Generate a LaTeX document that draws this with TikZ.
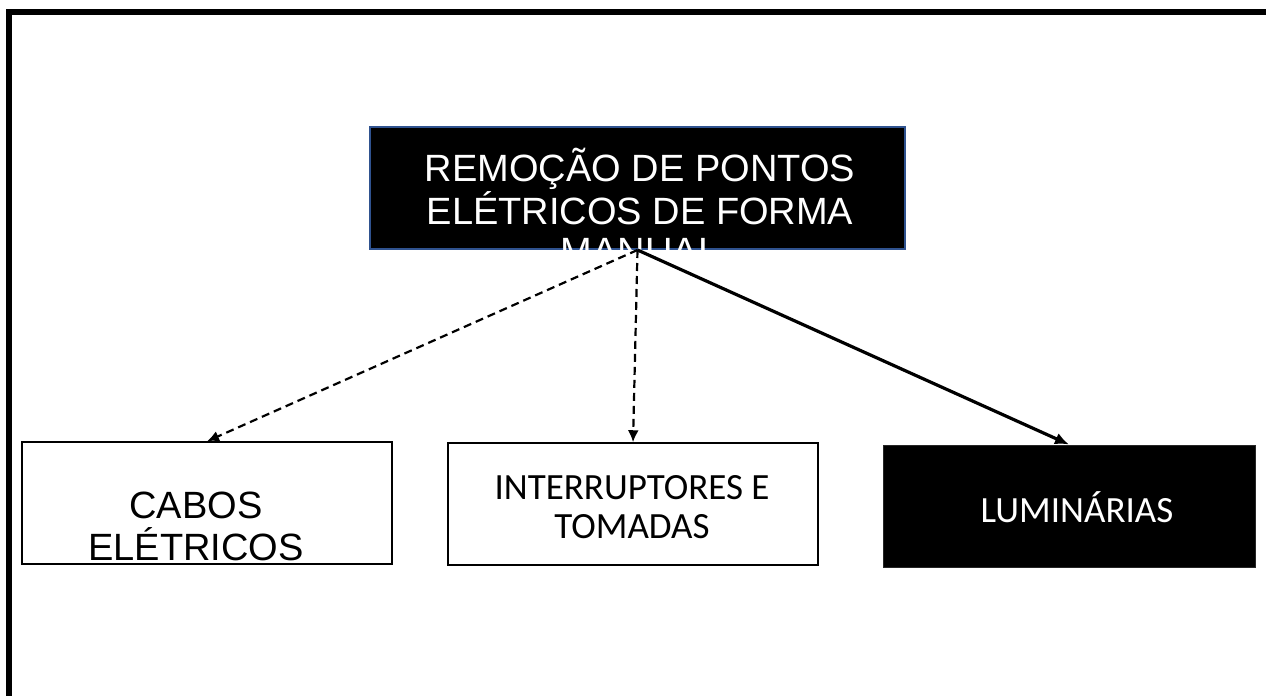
\documentclass[tikz,border=0pt]{standalone}
\usepackage{fontspec}
\setmainfont{Liberation Sans}
\newfontfamily\carlito{Carlito}
\usetikzlibrary{arrows.meta, positioning}
\definecolor{boxblue}{RGB}{47,82,143}

\begin{document}
\begin{tikzpicture}[x=1pt, y=-1pt,
  whitebox/.style={draw=black, line width=1.5pt, fill=white, minimum height=122pt, inner sep=0pt},
  blackbox/.style={draw=black!85, line width=1pt, fill=black, minimum height=122pt, inner sep=0pt},
  dasharrow/.style={-{Latex[length=12pt, width=11pt]}, line width=2.2pt, dash pattern=on 8pt off 5pt},
  solidarrow/.style={-{Latex[length=14pt, width=12pt]}, line width=3.2pt}]
  \useasboundingbox (0,0) rectangle (1266,696);
  \draw[line width=6pt] (1266,12) -- (9,12) -- (9,696);
  \node[blackbox, draw=boxblue, line width=2pt, minimum width=535pt] (remocao) at (637.5,188) {};
  \node[font=\fontsize{38}{40}\selectfont, text=white, align=center, anchor=base, inner sep=0pt] (remocaotxt) at (640,264) {REMOÇÃO DE PONTOS\\ELÉTRICOS DE FORMA\\MANUAL};
  \node[whitebox, minimum width=370pt] (cabos) at (207,503) {};
  \node[font=\fontsize{38}{42}\selectfont, align=center, anchor=base, inner sep=0pt] (cabostxt) at (196,560) {CABOS\\ELÉTRICOS};
  \node[whitebox, minimum width=370pt] (tomadas) at (633,504) {};
  \node[font=\carlito\fontsize{37}{39}\selectfont, align=center, anchor=base, inner sep=0pt] (tomadastxt) at (632,538) {INTERRUPTORES E\\TOMADAS};
  \node[blackbox, minimum width=372pt] (luminarias) at (1069,506) {};
  \node[font=\carlito\fontsize{37}{40}\selectfont, text=white, anchor=base, inner sep=0pt] (luminariastxt) at (1077,522) {LUMINÁRIAS};
  \draw[dasharrow] (remocao.south) -- (cabos.north);
  \draw[dasharrow] (remocao.south) -- (tomadas.north);
  \draw[solidarrow] (remocao.south) -- (luminarias.north);
\end{tikzpicture}
\end{document}
